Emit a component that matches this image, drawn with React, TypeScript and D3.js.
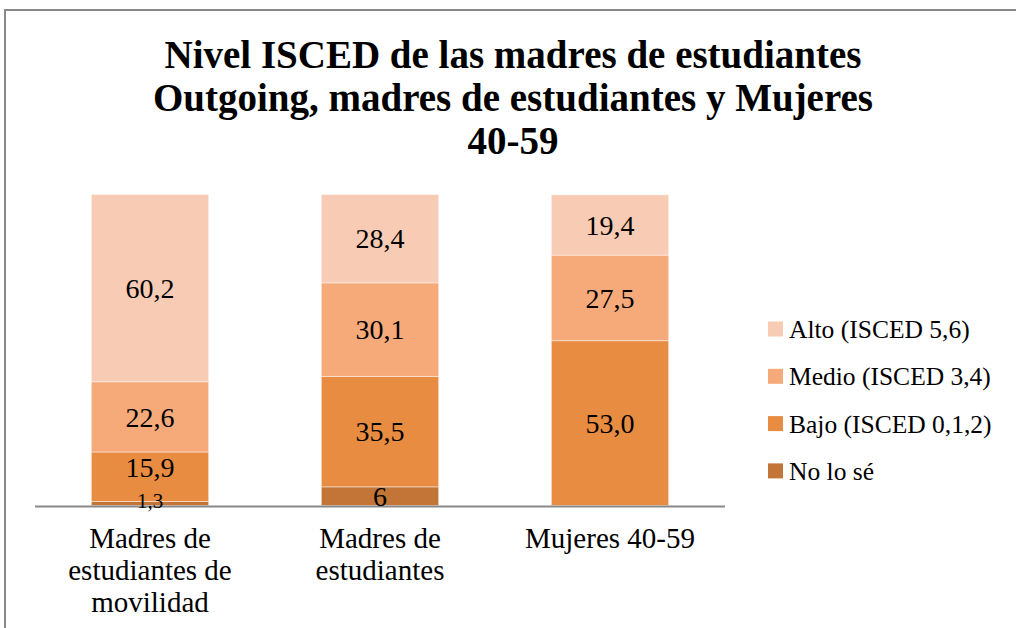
import React from "react";
import * as d3 from "d3";

const categories = [
  ["Madres de", "estudiantes de", "movilidad"],
  ["Madres de", "estudiantes"],
  ["Mujeres 40-59"],
];
const categoryKeys = ["movilidad", "estudiantes", "mujeres"];

const seriesNames = ["No lo sé", "Bajo (ISCED 0,1,2)", "Medio (ISCED 3,4)", "Alto (ISCED 5,6)"];
const noLoSe = [1.3, 6, 0];
const bajo = [15.9, 35.5, 53.0];
const medio = [22.6, 30.1, 27.5];
const alto = [60.2, 28.4, 19.4];

const noLoSeLabels = ["1,3", "6", ""];
const bajoLabels = ["15,9", "35,5", "53,0"];
const medioLabels = ["22,6", "30,1", "27,5"];
const altoLabels = ["60,2", "28,4", "19,4"];

const colors = ["#C27537", "#E88C41", "#F6AA7A", "#F8CBB4"];

const titleLines = [
  "Nivel ISCED de las madres de estudiantes",
  "Outgoing, madres de estudiantes y Mujeres",
  "40-59",
];

const FONT = "'Liberation Serif', 'Times New Roman', serif";

export default function App() {
  const W = 1016;
  const H = 628;
  const seriesValues = [noLoSe, bajo, medio, alto];
  const seriesLabels = [noLoSeLabels, bajoLabels, medioLabels, altoLabels];

  const rows = categoryKeys.map((k, i) => {
    const r: any = { key: k };
    seriesNames.forEach((s, j) => (r[s] = seriesValues[j][i]));
    return r;
  });
  const stacked = d3.stack().keys(seriesNames)(rows);

  const x = d3
    .scaleBand()
    .domain(categoryKeys)
    .range([35, 725])
    .paddingInner(0.49)
    .paddingOuter(0.245);
  const y = d3.scaleLinear().domain([0, 100]).range([505.5, 194.5]);

  const legendOrder = [3, 2, 1, 0];

  return (
    <svg
      width={W}
      height={H}
      style={{ position: "absolute", left: 0, top: 0, background: "#fff" }}
      fontFamily={FONT}
    >
      <rect x={0} y={0} width={W} height={H} fill="#fff" />
      <rect x={5} y={10} width={W + 20} height={H + 20} fill="none" stroke="#898989" strokeWidth={2} />

      {titleLines.map((t, i) => (
        <text
          key={i}
          x={513}
          y={68 + i * 43}
          textAnchor="middle"
          fontWeight="bold"
          fontSize={39}
          fill="#000"
        >
          {t}
        </text>
      ))}

      {stacked.map((s, j) => (
        <g key={j}>
          {s.map((d, i) => {
            const v = seriesValues[j][i];
            if (!v) return null;
            const cx = x(categoryKeys[i])!;
            const y0 = y(d[1]);
            const y1 = y(d[0]);
            return (
              <g key={i}>
                <rect
                  x={cx}
                  y={y0}
                  width={x.bandwidth()}
                  height={y1 - y0}
                  fill={colors[j]}
                  stroke="rgba(255,255,255,0.45)"
                  strokeWidth={1}
                />
              </g>
            );
          })}
        </g>
      ))}

      <line x1={35} x2={725} y1={506.5} y2={506.5} stroke="#898989" strokeWidth={2} />

      {stacked.map((s, j) => (
        <g key={"l" + j}>
          {s.map((d, i) => {
            const lab = seriesLabels[j][i];
            if (!lab) return null;
            const cx = x(categoryKeys[i])! + x.bandwidth() / 2;
            let cy = (y(d[0]) + y(d[1])) / 2;
            const small = seriesValues[j][i] < 3;
            if (small) cy -= 3;
            // avoid overlap with a small label directly below
            if (j > 0 && seriesValues[j - 1][i] > 0 && seriesValues[j - 1][i] < 3) cy -= 10;
            return (
              <text
                key={i}
                x={cx}
                y={cy}
                dy="0.35em"
                textAnchor="middle"
                fontSize={small ? 21 : 28}
                fill="#000"
              >
                {lab}
              </text>
            );
          })}
        </g>
      ))}

      {categories.map((lines, i) => (
        <text
          key={i}
          x={x(categoryKeys[i])! + x.bandwidth() / 2}
          textAnchor="middle"
          fontSize={29}
          fill="#000"
        >
          {lines.map((l, k) => (
            <tspan key={k} x={x(categoryKeys[i])! + x.bandwidth() / 2} y={548 + k * 32}>
              {l}
            </tspan>
          ))}
        </text>
      ))}

      {legendOrder.map((j, k) => (
        <g key={"lg" + j} transform={`translate(768, ${329 + k * 47.3})`}>
          <rect x={0} y={-7.5} width={15} height={15} fill={colors[j]} />
          <text x={21} y={0} dy="0.35em" fontSize={25.5} fill="#000">
            {seriesNames[j]}
          </text>
        </g>
      ))}
    </svg>
  );
}
